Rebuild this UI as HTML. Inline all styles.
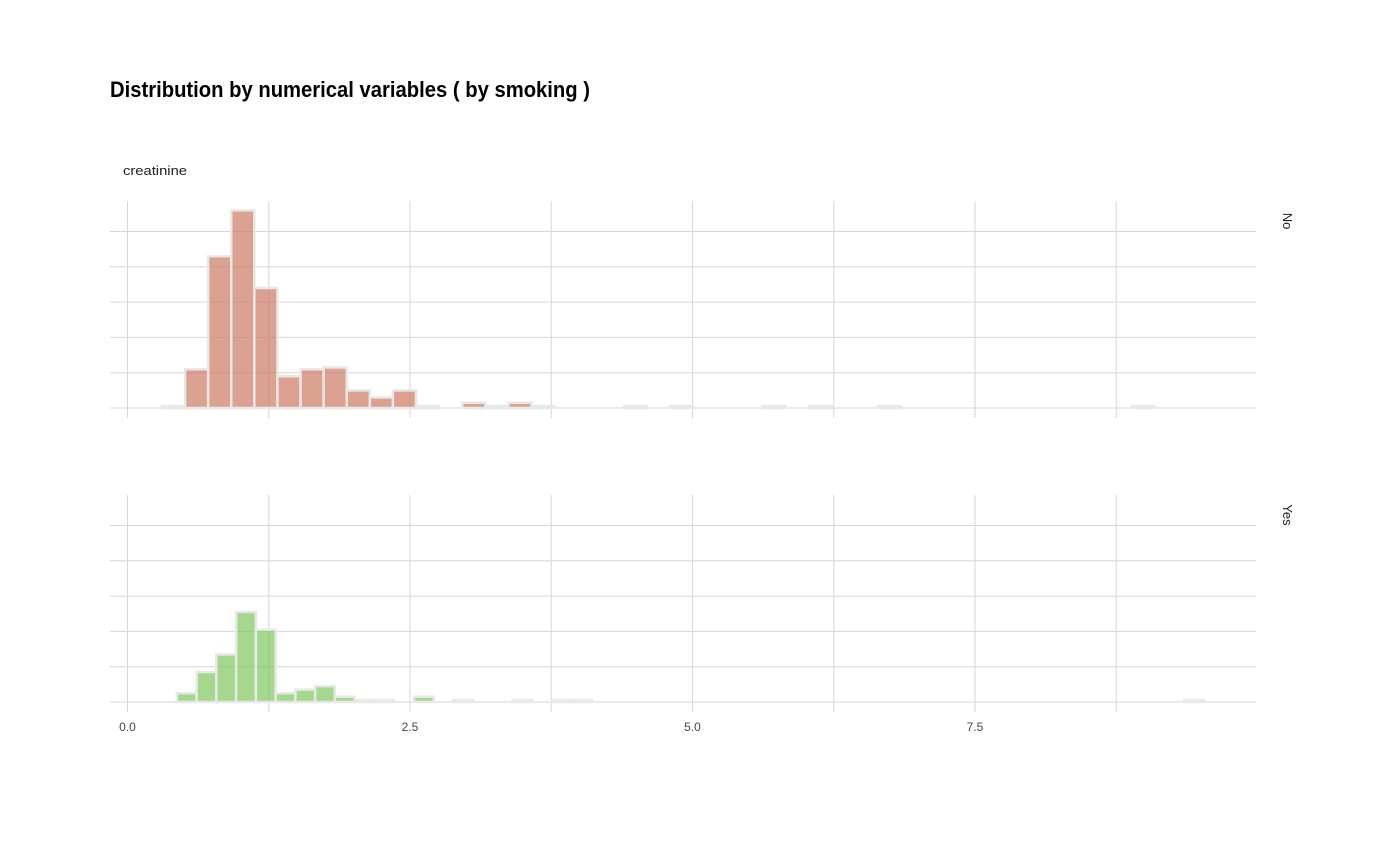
<!DOCTYPE html>
<html><head><meta charset="utf-8"><style>
body{margin:0;background:#fff;}
svg{display:block;font-family:"Liberation Sans",sans-serif;}
</style></head><body>
<svg id="chart" width="1400" height="866">
<text x="110" y="97" font-size="22" font-weight="bold" fill="#000" textLength="480" lengthAdjust="spacingAndGlyphs">Distribution by numerical variables ( by smoking )</text>
<text x="123" y="175" font-size="13" fill="#222" textLength="64" lengthAdjust="spacingAndGlyphs">creatinine</text>
<g id="grid"></g>
<g id="bars"></g>
<g id="labels"></g>
</svg>
<script>
const xTicks=[0,2.5,5,7.5];
const xTickLabels=["0.0","2.5","5.0","7.5"];
const xMinor=[1.25,3.75,6.25,8.75];
const yTicks=[0,20,40,60,80,100];
const groups=["No","Yes"];
const binStarts=[0.305,0.437];
const binWidths=[0.2044,0.1748];
const countsNo=[1,22,86,112,68,18,22,23,10,6,10,1,0,3,1,3,1,0,0,0,1,0,1,0,0,0,1,0,1,0,0,1,0,0,0,0,0,0,0,0,0,0,1];
const countsYes=[5,17,27,51,41,5,7,9,3,1,1,0,3,0,1,0,0,1,0,1,1,0,0,0,0,0,0,0,0,0,0,0,0,0,0,0,0,0,0,0,0,0,0,0,0,0,0,0,0,0,0,1];
const counts=[countsNo,countsYes];
const colors=["rgba(204,122,98,0.7)","rgba(124,200,92,0.7)"];
const NS="http://www.w3.org/2000/svg";
const X=v=>127.5+v*113;
const panels=[{top:201,base:408},{top:495,base:702}];
const Y=(p,c)=>panels[p].base-c*1.765;
function mk(t,a,parent){const e=document.createElementNS(NS,t);for(const k in a)e.setAttribute(k,a[k]);document.getElementById(parent).appendChild(e);return e;}
panels.forEach((P,p)=>{
  yTicks.forEach(t=>{
    const l=mk('line',{x1:110,x2:1256,y1:Y(p,t),y2:Y(p,t),stroke:'#d6d6d6','stroke-width':1},'grid');
    
    
  });
  xTicks.concat(xMinor).forEach(t=>{
    const l=mk('line',{x1:X(t),x2:X(t),y1:P.top,y2:P.base+10,stroke:'#d6d6d6','stroke-width':1},'grid');
    
    
  });
  counts[p].forEach((c,i)=>{
    const x0=X(binStarts[p]+i*binWidths[p]),w=binWidths[p]*113;
    const y=Y(p,c);
    const r=mk('rect',{x:x0,y:y,width:w,height:P.base-y,fill:colors[p],stroke:'#e8e8e8','stroke-width':2.5},'bars');
    
    
  });
  const s=mk('text',{x:0,y:0,'font-size':13,fill:'#222',transform:`translate(1283,${P.top+20}) rotate(90)`,'text-anchor':'middle'},'labels');
  s.textContent=groups[p];
  
  
});
xTicks.forEach((t,i)=>{
  const e=mk('text',{x:X(t),y:731,'font-size':12,fill:'#444','text-anchor':'middle'},'labels');
  e.textContent=xTickLabels[i];
  
  
});
</script>
</body></html>
